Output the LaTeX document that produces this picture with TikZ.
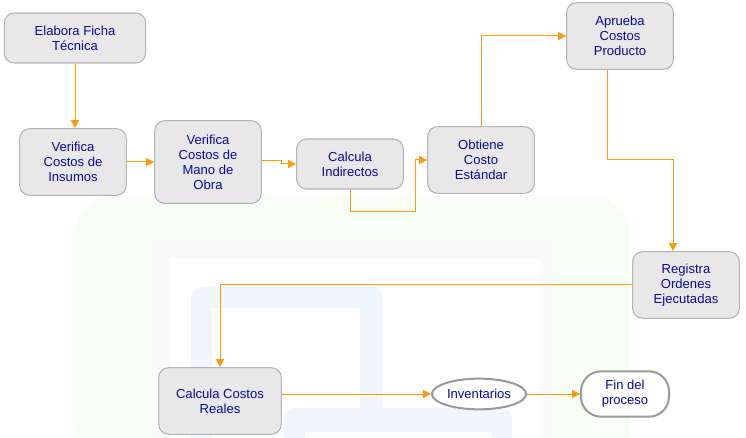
\documentclass[tikz,border=0pt]{standalone}
\usepackage{fontspec}
\setmainfont{Liberation Sans}
\usetikzlibrary{shapes.geometric, arrows.meta}
\definecolor{txtblue}{HTML}{0A0A9C}
\definecolor{flow}{HTML}{FF9A0A}
\definecolor{boxfill}{HTML}{E8E8E8}
\definecolor{boxline}{HTML}{B4B4B4}
\definecolor{wmgreen}{HTML}{F7FEF4}
\definecolor{wmgray}{HTML}{FAFAFA}
\definecolor{wmblue}{HTML}{F0F6FE}

\begin{document}
\begin{tikzpicture}[x=0.75pt, y=-0.75pt,
        main/.style={draw=boxline, fill=boxfill, rounded corners=7.5pt, line width=0.8pt, align=center, text=txtblue, font=\fontsize{9.8}{11.25}\selectfont, minimum width=80pt, minimum height=50pt, inner sep=2pt},
        info/.style={draw=boxline!85!black, fill=white, line width=1.5pt, align=center, text=txtblue, font=\fontsize{9.8}{11.25}\selectfont},
        n/.style={-{Triangle[length=6pt, width=6pt]}, draw=flow, line width=0.75pt}]
        \useasboundingbox (0,0) rectangle (746,438);
        % background
        \begin{scope}
            \clip (0,0) rectangle (746,438);
            \fill[wmgreen, rounded corners=30pt] (75,195) rectangle (630,470);
            \fill[wmgray] (153,240) rectangle (552,470);
            \fill[white] (170,258) rectangle (540,470);
            \fill[wmblue, rounded corners=8pt] (191,287) rectangle (383,470);
            \fill[white] (212,308) rectangle (360,470);
            \fill[wmblue, rounded corners=8pt] (284,408) rectangle (512,470);
            \fill[white] (305,432) rectangle (492,470);
        \end{scope}
        % nodes
        \node[main, minimum width=106pt, minimum height=37.5pt] (ela) at (75,38) {Elabora Ficha\\Técnica};
        \node[main] (ins) at (73,162) {Verifica\\Costos de\\Insumos};
        \node[main, minimum height=62pt] (man) at (208,162) {Verifica\\Costos de\\Mano de\\Obra};
        \node[main, minimum height=37.5pt] (ind) at (350,164) {Calcula\\Indirectos};
        \node[main] (obt) at (481,160) {Obtiene\\Costo\\Estándar};
        \node[main] (apr) at (620,36) {Aprueba\\Costos\\Producto};
        \node[main] (reg) at (686,285) {Registra\\Ordenes\\Ejecutadas};
        \node[main, minimum width=92pt] (rea) at (220,401) {Calcula Costos\\Reales};
        \node[info, ellipse, minimum width=70pt, minimum height=23pt, inner sep=1pt] (inv) at (479,394) {Inventarios};
        \node[info, rounded corners=15pt, minimum width=66pt, minimum height=34pt] (fin) at (625,394) {Fin del\\proceso};
        % bends
        \coordinate (b1) at (281,161);
        \coordinate (b2) at (415,212);
        \coordinate (b3) at (673,160);
        % edges
        \draw[n] (ela.south) -- (ela.south |- ins.north);
        \draw[n] (ins) -- (man);
        \draw[n] (man.east |- b1) -- (b1) |- (ind.west);
        \draw[n] (ind.south) |- (b2) |- (obt.west);
        \draw[n] (obt.north) |- (apr.west);
        \draw[n] ([xshift=-9.75pt]apr.south) |- (b3) -- (b3 |- reg.north);
        \draw[n] (reg.west) -| (rea.north);
        \draw[n] (inv.west -| rea.east) -- (inv.west);
        \draw[n] (inv) -- (fin);
    \end{tikzpicture}
\end{document}
